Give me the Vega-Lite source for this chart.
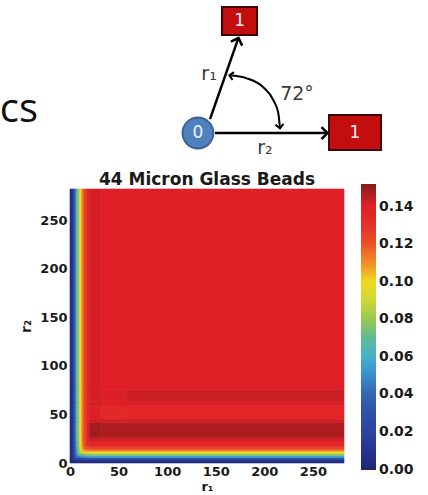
{
  "$schema": "https://vega.github.io/schema/vega-lite/v6.json",
  "width": 274,
  "height": 274,
  "autosize": {"type": "none"},
  "padding": {"left": 70, "top": 189, "right": 84, "bottom": 32},
  "background": "white",
  "config": {"view": {"stroke": null}},
  "datasets": {
    "cells": [
      {"x":0,"x2":2,"y":0,"y2":2,"v":0.0018},{"x":2,"x2":4,"y":0,"y2":2,"v":0.0019},{"x":4,"x2":6,"y":0,"y2":2,"v":0.0021},{"x":6,"x2":8,"y":0,"y2":2,"v":0.0023},{"x":8,"x2":10,"y":0,"y2":2,"v":0.0025},{"x":10,"x2":12,"y":0,"y2":2,"v":0.0026},{"x":12,"x2":14,"y":0,"y2":2,"v":0.0028},{"x":14,"x2":17,"y":0,"y2":2,"v":0.0029},{"x":17,"x2":282,"y":0,"y2":2,"v":0.003},
      {"x":0,"x2":2,"y":2,"y2":4,"v":0.0019},{"x":2,"x2":4,"y":2,"y2":4,"v":0.0076},{"x":4,"x2":6,"y":2,"y2":4,"v":0.009},{"x":6,"x2":8,"y":2,"y2":4,"v":0.0099},{"x":8,"x2":10,"y":2,"y2":4,"v":0.0108},{"x":10,"x2":12,"y":2,"y2":4,"v":0.0114},{"x":12,"x2":14,"y":2,"y2":4,"v":0.0119},{"x":14,"x2":17,"y":2,"y2":4,"v":0.0124},{"x":17,"x2":20,"y":2,"y2":4,"v":0.0128},{"x":20,"x2":282,"y":2,"y2":4,"v":0.013},
      {"x":0,"x2":2,"y":4,"y2":6,"v":0.0021},{"x":2,"x2":4,"y":4,"y2":6,"v":0.0083},{"x":4,"x2":6,"y":4,"y2":6,"v":0.0222},{"x":6,"x2":8,"y":4,"y2":6,"v":0.0251},{"x":8,"x2":10,"y":4,"y2":6,"v":0.0273},{"x":10,"x2":12,"y":4,"y2":6,"v":0.029},{"x":12,"x2":14,"y":4,"y2":6,"v":0.0303},{"x":14,"x2":17,"y":4,"y2":6,"v":0.0314},{"x":17,"x2":20,"y":4,"y2":6,"v":0.0325},{"x":20,"x2":282,"y":4,"y2":6,"v":0.033},
      {"x":0,"x2":2,"y":6,"y2":8,"v":0.0023},{"x":2,"x2":4,"y":6,"y2":8,"v":0.0091},{"x":4,"x2":6,"y":6,"y2":8,"v":0.0243},{"x":6,"x2":8,"y":6,"y2":8,"v":0.0427},{"x":8,"x2":10,"y":6,"y2":8,"v":0.0463},{"x":10,"x2":12,"y":6,"y2":8,"v":0.0492},{"x":12,"x2":14,"y":6,"y2":8,"v":0.0514},{"x":14,"x2":17,"y":6,"y2":8,"v":0.0533},{"x":17,"x2":20,"y":6,"y2":8,"v":0.0552},{"x":20,"x2":282,"y":6,"y2":8,"v":0.056},
      {"x":0,"x2":2,"y":8,"y2":10,"v":0.0025},{"x":2,"x2":4,"y":8,"y2":10,"v":0.0099},{"x":4,"x2":6,"y":8,"y2":10,"v":0.0265},{"x":6,"x2":8,"y":8,"y2":10,"v":0.0471},{"x":8,"x2":10,"y":8,"y2":10,"v":0.0662},{"x":10,"x2":12,"y":8,"y2":10,"v":0.0702},{"x":12,"x2":14,"y":8,"y2":10,"v":0.0734},{"x":14,"x2":17,"y":8,"y2":10,"v":0.0762},{"x":17,"x2":20,"y":8,"y2":10,"v":0.0789},{"x":20,"x2":282,"y":8,"y2":10,"v":0.08},
      {"x":0,"x2":2,"y":10,"y2":12,"v":0.0026},{"x":2,"x2":4,"y":10,"y2":12,"v":0.0105},{"x":4,"x2":6,"y":10,"y2":12,"v":0.0281},{"x":6,"x2":8,"y":10,"y2":12,"v":0.05},{"x":8,"x2":10,"y":10,"y2":12,"v":0.0702},{"x":10,"x2":12,"y":10,"y2":12,"v":0.086},{"x":12,"x2":14,"y":10,"y2":12,"v":0.09},{"x":14,"x2":17,"y":10,"y2":12,"v":0.0933},{"x":17,"x2":20,"y":10,"y2":12,"v":0.0966},{"x":20,"x2":282,"y":10,"y2":12,"v":0.098},
      {"x":0,"x2":2,"y":12,"y2":14,"v":0.0028},{"x":2,"x2":4,"y":12,"y2":14,"v":0.011},{"x":4,"x2":6,"y":12,"y2":14,"v":0.0294},{"x":6,"x2":8,"y":12,"y2":14,"v":0.0523},{"x":8,"x2":10,"y":12,"y2":14,"v":0.0734},{"x":10,"x2":12,"y":12,"y2":14,"v":0.09},{"x":12,"x2":14,"y":12,"y2":14,"v":0.1028},{"x":14,"x2":17,"y":12,"y2":14,"v":0.1066},{"x":17,"x2":20,"y":12,"y2":14,"v":0.1104},{"x":20,"x2":282,"y":12,"y2":14,"v":0.112},
      {"x":0,"x2":2,"y":14,"y2":17,"v":0.0028},{"x":2,"x2":4,"y":14,"y2":17,"v":0.0114},{"x":4,"x2":6,"y":14,"y2":17,"v":0.0304},{"x":6,"x2":8,"y":14,"y2":17,"v":0.0541},{"x":8,"x2":10,"y":14,"y2":17,"v":0.0759},{"x":10,"x2":12,"y":14,"y2":17,"v":0.093},{"x":12,"x2":14,"y":14,"y2":17,"v":0.1063},{"x":14,"x2":17,"y":14,"y2":17,"v":0.1171},{"x":17,"x2":20,"y":14,"y2":17,"v":0.1213},{"x":20,"x2":282,"y":14,"y2":17,"v":0.123},
      {"x":0,"x2":2,"y":17,"y2":22,"v":0.003},{"x":2,"x2":4,"y":17,"y2":22,"v":0.0118},{"x":4,"x2":6,"y":17,"y2":22,"v":0.0316},{"x":6,"x2":8,"y":17,"y2":22,"v":0.0562},{"x":8,"x2":10,"y":17,"y2":22,"v":0.0789},{"x":10,"x2":12,"y":17,"y2":22,"v":0.0966},{"x":12,"x2":14,"y":17,"y2":22,"v":0.1104},{"x":14,"x2":17,"y":17,"y2":22,"v":0.1223},{"x":17,"x2":20,"y":17,"y2":22,"v":0.1341},{"x":20,"x2":32,"y":17,"y2":22,"v":0.137},{"x":32,"x2":282,"y":17,"y2":22,"v":0.136},
      {"x":0,"x2":2,"y":22,"y2":26,"v":0.003},{"x":2,"x2":4,"y":22,"y2":26,"v":0.012},{"x":4,"x2":6,"y":22,"y2":26,"v":0.032},{"x":6,"x2":8,"y":22,"y2":26,"v":0.057},{"x":8,"x2":10,"y":22,"y2":26,"v":0.08},{"x":10,"x2":12,"y":22,"y2":26,"v":0.098},{"x":12,"x2":14,"y":22,"y2":26,"v":0.112},{"x":14,"x2":17,"y":22,"y2":26,"v":0.124},{"x":17,"x2":20,"y":22,"y2":26,"v":0.137},{"x":20,"x2":32,"y":22,"y2":26,"v":0.144},{"x":32,"x2":282,"y":22,"y2":26,"v":0.143},
      {"x":0,"x2":2,"y":26,"y2":42,"v":0.003},{"x":2,"x2":4,"y":26,"y2":42,"v":0.012},{"x":4,"x2":6,"y":26,"y2":42,"v":0.032},{"x":6,"x2":8,"y":26,"y2":42,"v":0.057},{"x":8,"x2":10,"y":26,"y2":42,"v":0.08},{"x":10,"x2":12,"y":26,"y2":42,"v":0.098},{"x":12,"x2":14,"y":26,"y2":42,"v":0.112},{"x":14,"x2":17,"y":26,"y2":42,"v":0.124},{"x":17,"x2":20,"y":26,"y2":42,"v":0.139},{"x":20,"x2":32,"y":26,"y2":42,"v":0.149},{"x":32,"x2":282,"y":26,"y2":42,"v":0.148},
      {"x":0,"x2":2,"y":42,"y2":46,"v":0.003},{"x":2,"x2":4,"y":42,"y2":46,"v":0.012},{"x":4,"x2":6,"y":42,"y2":46,"v":0.032},{"x":6,"x2":8,"y":42,"y2":46,"v":0.057},{"x":8,"x2":10,"y":42,"y2":46,"v":0.08},{"x":10,"x2":12,"y":42,"y2":46,"v":0.098},{"x":12,"x2":14,"y":42,"y2":46,"v":0.112},{"x":14,"x2":17,"y":42,"y2":46,"v":0.124},{"x":17,"x2":20,"y":42,"y2":46,"v":0.137},{"x":20,"x2":32,"y":42,"y2":46,"v":0.144},{"x":32,"x2":282,"y":42,"y2":46,"v":0.143},
      {"x":0,"x2":2,"y":46,"y2":58,"v":0.003},{"x":2,"x2":4,"y":46,"y2":58,"v":0.012},{"x":4,"x2":6,"y":46,"y2":58,"v":0.032},{"x":6,"x2":8,"y":46,"y2":58,"v":0.057},{"x":8,"x2":10,"y":46,"y2":58,"v":0.08},{"x":10,"x2":12,"y":46,"y2":58,"v":0.098},{"x":12,"x2":14,"y":46,"y2":58,"v":0.112},{"x":14,"x2":17,"y":46,"y2":58,"v":0.124},{"x":17,"x2":20,"y":46,"y2":58,"v":0.136},{"x":20,"x2":32,"y":46,"y2":58,"v":0.142},{"x":32,"x2":58,"y":46,"y2":58,"v":0.134},{"x":58,"x2":282,"y":46,"y2":58,"v":0.137},
      {"x":0,"x2":2,"y":58,"y2":63,"v":0.003},{"x":2,"x2":4,"y":58,"y2":63,"v":0.012},{"x":4,"x2":6,"y":58,"y2":63,"v":0.032},{"x":6,"x2":8,"y":58,"y2":63,"v":0.057},{"x":8,"x2":10,"y":58,"y2":63,"v":0.08},{"x":10,"x2":12,"y":58,"y2":63,"v":0.098},{"x":12,"x2":14,"y":58,"y2":63,"v":0.112},{"x":14,"x2":17,"y":58,"y2":63,"v":0.124},{"x":17,"x2":20,"y":58,"y2":63,"v":0.136},{"x":20,"x2":32,"y":58,"y2":63,"v":0.143},{"x":32,"x2":282,"y":58,"y2":63,"v":0.141},
      {"x":0,"x2":2,"y":63,"y2":76,"v":0.003},{"x":2,"x2":4,"y":63,"y2":76,"v":0.012},{"x":4,"x2":6,"y":63,"y2":76,"v":0.032},{"x":6,"x2":8,"y":63,"y2":76,"v":0.057},{"x":8,"x2":10,"y":63,"y2":76,"v":0.08},{"x":10,"x2":12,"y":63,"y2":76,"v":0.098},{"x":12,"x2":14,"y":63,"y2":76,"v":0.112},{"x":14,"x2":17,"y":63,"y2":76,"v":0.124},{"x":17,"x2":20,"y":63,"y2":76,"v":0.136},{"x":20,"x2":32,"y":63,"y2":76,"v":0.143},{"x":32,"x2":58,"y":63,"y2":76,"v":0.142},{"x":58,"x2":282,"y":63,"y2":76,"v":0.145},
      {"x":0,"x2":2,"y":76,"y2":282,"v":0.003},{"x":2,"x2":4,"y":76,"y2":282,"v":0.012},{"x":4,"x2":6,"y":76,"y2":282,"v":0.032},{"x":6,"x2":8,"y":76,"y2":282,"v":0.057},{"x":8,"x2":10,"y":76,"y2":282,"v":0.08},{"x":10,"x2":12,"y":76,"y2":282,"v":0.098},{"x":12,"x2":14,"y":76,"y2":282,"v":0.112},{"x":14,"x2":17,"y":76,"y2":282,"v":0.124},{"x":17,"x2":20,"y":76,"y2":282,"v":0.136},{"x":20,"x2":32,"y":76,"y2":282,"v":0.143},{"x":32,"x2":282,"y":76,"y2":282,"v":0.141}
    ],
    "boxes": [
      {"node":"top","x":156.4,"x2":192.5,"y":440.5,"y2":469.3},
      {"node":"right","x":266.6,"x2":320.1,"y":322.1,"y2":358.2}
    ],
    "arrows": [
      {"arrow":"r1","step":0,"x":144.1,"y":354.0},
      {"arrow":"r1","step":1,"x":173.0,"y":436.5},
      {"arrow":"r2","step":0,"x":149.2,"y":339.6},
      {"arrow":"r2","step":1,"x":264.5,"y":339.6}
    ],
    "arc": [
      {"step":0,"x":164.0,"y":399.0},
      {"step":1,"x":181.9,"y":395.9},
      {"step":2,"x":198.9,"y":386.7},
      {"step":3,"x":209.2,"y":373.6},
      {"step":4,"x":214.4,"y":359.9},
      {"step":5,"x":216.1,"y":344.5}
    ],
    "heads": [
      {"head":"r1","x":173.4,"y":437.4},
      {"head":"r2","x":265.0,"y":339.6},
      {"head":"arcStart","x":164.0,"y":399.0},
      {"head":"arcEnd","x":216.1,"y":344.5}
    ],
    "nodes": [
      {"label":"0","x":131.7,"y":339.6},
      {"label":"1","x":174.5,"y":454.9},
      {"label":"1","x":293.3,"y":340.1}
    ],
    "labels": [
      {"label":"r₁","x":143.1,"y":400.4},
      {"label":"72°","x":233.6,"y":379.8},
      {"label":"r₂","x":200.7,"y":324.2}
    ],
    "heading": [
      {"label":"cs","x":-32.9,"y":351.0}
    ],
    "chartTitle": [
      {"label":"44 Micron Glass Beads","x":141.0,"y":285.8}
    ]
  },
  "layer": [
    {
      "data": {"name": "cells"},
      "mark": {"type": "rect", "strokeWidth": 0.6},
      "encoding": {
        "x": {"field": "x", "type": "quantitative", "scale": {"domain": [0, 282], "nice": false, "zero": false},
              "axis": {"values": [0, 50, 100, 150, 200, 250], "title": "r₁", "labelFont": "DejaVu Sans", "labelFontSize": 13, "labelFontWeight": "bold", "labelColor": "#1a1a1a", "labelFlush": false, "ticks": false, "domain": false, "grid": false, "labelPadding": 2, "titleFont": "DejaVu Sans", "titleFontSize": 13, "titleFontWeight": "bold", "titleColor": "#1a1a1a", "titlePadding": 2}},
        "x2": {"field": "x2"},
        "y": {"field": "y", "type": "quantitative", "scale": {"domain": [0, 282], "nice": false, "zero": false},
              "axis": {"values": [0, 50, 100, 150, 200, 250], "title": "r₂", "labelFont": "DejaVu Sans", "labelFontSize": 13, "labelFontWeight": "bold", "labelColor": "#1a1a1a", "ticks": false, "domain": false, "grid": false, "labelPadding": 3, "titleFont": "DejaVu Sans", "titleFontSize": 14, "titleFontWeight": "bold", "titleColor": "#1a1a1a", "titlePadding": 6}},
        "y2": {"field": "y2"},
        "color": {"field": "v", "type": "quantitative",
                  "scale": {"domain": [-0.0002, 0.01, 0.02, 0.03, 0.04, 0.05, 0.058, 0.068, 0.078, 0.089, 0.099, 0.108, 0.118, 0.128, 0.141, 0.146, 0.152],
                            "range": ["#1f2672", "#263490", "#2c449e", "#3050a8", "#3563b2", "#3b8ccc", "#40b0d8", "#58b8a0", "#8cc45a", "#c8d838", "#f0e020", "#f39a28", "#ec5a28", "#e5322a", "#e11f26", "#c61e22", "#7f1a1a"],
                            "interpolate": "rgb"},
                  "legend": {"type": "gradient", "orient": "none", "legendX": 291, "legendY": -5, "direction": "vertical", "title": null, "gradientLength": 286, "gradientThickness": 15, "gradientStrokeWidth": 0, "values": [0, 0.02, 0.04, 0.06, 0.08, 0.1, 0.12, 0.14], "format": ".2f", "labelFont": "DejaVu Sans", "labelFontSize": 14, "labelFontWeight": "bold", "labelColor": "#1a1a1a", "labelOffset": 3, "labelBaseline": "middle", "labelOverlap": false, "padding": 0}},
        "stroke": {"field": "v", "type": "quantitative",
                  "scale": {"domain": [-0.0002, 0.01, 0.02, 0.03, 0.04, 0.05, 0.058, 0.068, 0.078, 0.089, 0.099, 0.108, 0.118, 0.128, 0.141, 0.146, 0.1521],
                            "range": ["#1f2672", "#263490", "#2c449e", "#3050a8", "#3563b2", "#3b8ccc", "#40b0d8", "#58b8a0", "#8cc45a", "#c8d838", "#f0e020", "#f39a28", "#ec5a28", "#e5322a", "#e11f26", "#c61e22", "#7f1a1a"],
                            "interpolate": "rgb"},
                  "legend": null}
      }
    },
    {
      "data": {"name": "boxes"},
      "mark": {"type": "rect", "fill": "#c20e0e", "stroke": "#3d0505", "strokeWidth": 2},
      "encoding": {
        "x": {"field": "x", "type": "quantitative"},
        "x2": {"field": "x2"},
        "y": {"field": "y", "type": "quantitative"},
        "y2": {"field": "y2"}
      }
    },
    {
      "data": {"name": "arrows"},
      "mark": {"type": "line", "color": "#000000", "strokeWidth": 2.5},
      "encoding": {
        "x": {"field": "x", "type": "quantitative"},
        "y": {"field": "y", "type": "quantitative"},
        "detail": {"field": "arrow"},
        "order": {"field": "step"}
      }
    },
    {
      "data": {"name": "arc"},
      "mark": {"type": "line", "color": "#000000", "strokeWidth": 2, "interpolate": "monotone"},
      "encoding": {
        "x": {"field": "x", "type": "quantitative"},
        "y": {"field": "y", "type": "quantitative"},
        "order": {"field": "step"}
      }
    },
    {
      "data": {"name": "heads"},
      "transform": [{"filter": "datum.head === 'r1'"}],
      "mark": {"type": "point", "shape": "M-1,1L0,0L1,1", "filled": false, "stroke": "#000000", "strokeWidth": 2.5, "size": 144, "angle": 19, "opacity": 1},
      "encoding": {"x": {"field": "x", "type": "quantitative"}, "y": {"field": "y", "type": "quantitative"}}
    },
    {
      "data": {"name": "heads"},
      "transform": [{"filter": "datum.head === 'r2'"}],
      "mark": {"type": "point", "shape": "M-1,1L0,0L1,1", "filled": false, "stroke": "#000000", "strokeWidth": 2.5, "size": 144, "angle": 90, "opacity": 1},
      "encoding": {"x": {"field": "x", "type": "quantitative"}, "y": {"field": "y", "type": "quantitative"}}
    },
    {
      "data": {"name": "heads"},
      "transform": [{"filter": "datum.head === 'arcStart'"}],
      "mark": {"type": "point", "shape": "M-1,1L0,0L1,1", "filled": false, "stroke": "#000000", "strokeWidth": 2, "size": 64, "angle": 280, "opacity": 1},
      "encoding": {"x": {"field": "x", "type": "quantitative"}, "y": {"field": "y", "type": "quantitative"}}
    },
    {
      "data": {"name": "heads"},
      "transform": [{"filter": "datum.head === 'arcEnd'"}],
      "mark": {"type": "point", "shape": "M-1,1L0,0L1,1", "filled": false, "stroke": "#000000", "strokeWidth": 2, "size": 64, "angle": 173, "opacity": 1},
      "encoding": {"x": {"field": "x", "type": "quantitative"}, "y": {"field": "y", "type": "quantitative"}}
    },
    {
      "data": {"name": "nodes"},
      "transform": [{"filter": "datum.label === '0'"}],
      "mark": {"type": "point", "shape": "circle", "filled": true, "fill": "#4f81bd", "stroke": "#3a6496", "strokeWidth": 2, "size": 950, "opacity": 1},
      "encoding": {"x": {"field": "x", "type": "quantitative"}, "y": {"field": "y", "type": "quantitative"}}
    },
    {
      "data": {"name": "nodes"},
      "mark": {"type": "text", "font": "DejaVu Sans", "fontSize": 17, "color": "#f2f2f2", "align": "center", "baseline": "middle"},
      "encoding": {"x": {"field": "x", "type": "quantitative"}, "y": {"field": "y", "type": "quantitative"}, "text": {"field": "label"}}
    },
    {
      "data": {"name": "labels"},
      "mark": {"type": "text", "font": "DejaVu Sans", "fontSize": 19, "color": "#3a3a3a", "align": "center", "baseline": "middle"},
      "encoding": {"x": {"field": "x", "type": "quantitative"}, "y": {"field": "y", "type": "quantitative"}, "text": {"field": "label"}}
    },
    {
      "data": {"name": "heading"},
      "mark": {"type": "text", "font": "Open Sans", "fontSize": 40, "color": "#111111", "align": "right", "baseline": "alphabetic"},
      "encoding": {"x": {"field": "x", "type": "quantitative"}, "y": {"field": "y", "type": "quantitative"}, "text": {"field": "label"}}
    },
    {
      "data": {"name": "chartTitle"},
      "mark": {"type": "text", "font": "DejaVu Sans", "fontSize": 17, "fontWeight": "bold", "color": "#1a1a1a", "align": "center", "baseline": "alphabetic"},
      "encoding": {"x": {"field": "x", "type": "quantitative"}, "y": {"field": "y", "type": "quantitative"}, "text": {"field": "label"}}
    }
  ]
}
